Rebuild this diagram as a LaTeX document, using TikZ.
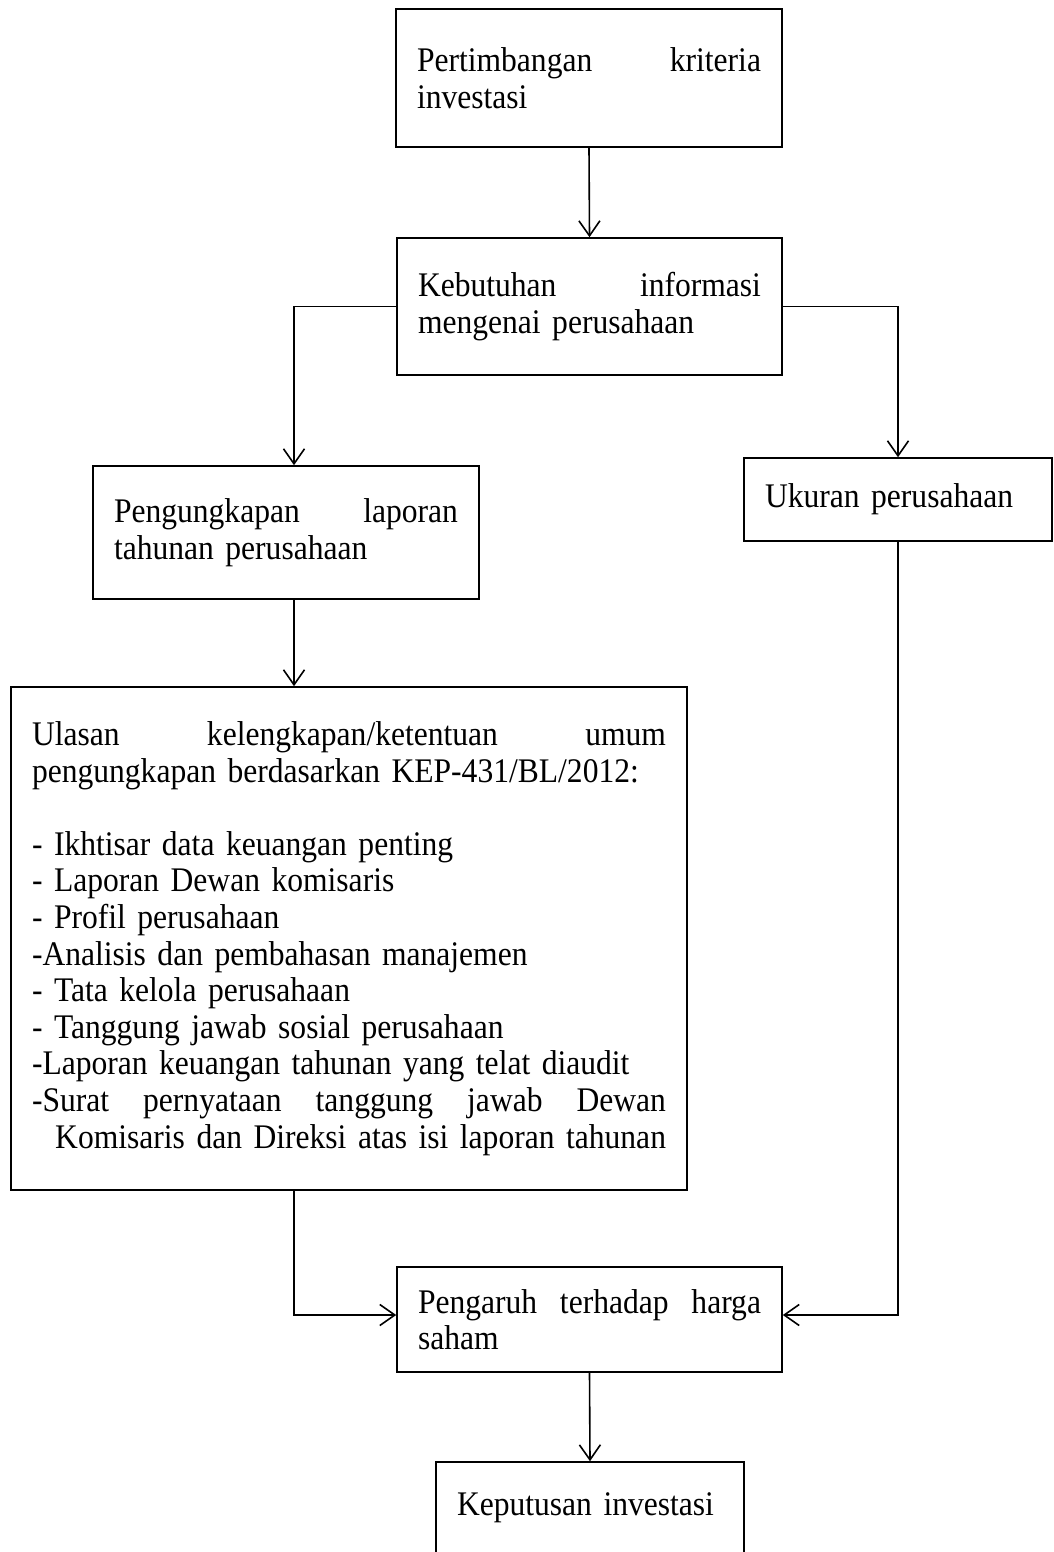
\documentclass[tikz,border=0pt]{standalone}
\usepackage{fontspec}
\setmainfont{Liberation Serif}[FakeStretch=0.915,WordSpace=0.8]
\usetikzlibrary{arrows.meta}
\begin{document}
\begin{tikzpicture}[x=1pt,y=-1pt,
  box/.style={draw, line width=1.6pt, inner xsep=21pt, inner ysep=0pt,
    font=\fontsize{34.5}{36.6}\selectfont, align=left},
  arr/.style={line width=1.6pt, -{Straight Barb[length=15pt,width=21pt,line width=1.6pt]}}]
\useasboundingbox (0,0) rectangle (1053,1552);

\node[box, text width=344pt, minimum width=386pt, minimum height=138pt] (b1) at (589,78)
  {Pertimbangan\hfill kriteria\\investasi};
\node[box, text width=343pt, minimum width=385pt, minimum height=137pt] (b2) at (589.5,306.5)
  {Kebutuhan\hfill informasi\\mengenai perusahaan};
\node[box, text width=344pt, minimum width=386pt, minimum height=133pt] (b3) at (286,532.5)
  {Pengungkapan\hfill laporan\\tahunan perusahaan};
\node[box, text width=266pt, minimum width=308pt, minimum height=83pt] (b4) at (898,499.5)
  {Ukuran perusahaan};
\node[box, text width=634pt, minimum width=676pt, minimum height=503pt] (b5) at (349,938.5)
  {Ulasan\hfill kelengkapan/ketentuan\hfill umum\\
   pengungkapan berdasarkan KEP-431/BL/2012:\\
   \mbox{}\\
   - Ikhtisar data keuangan penting\\
   - Laporan Dewan komisaris\\
   - Profil perusahaan\\
   -Analisis dan pembahasan manajemen\\
   - Tata kelola perusahaan\\
   - Tanggung jawab sosial perusahaan\\
   -Laporan keuangan tahunan yang telat diaudit\\
   -Surat\hfill pernyataan\hfill tanggung\hfill jawab\hfill Dewan\\
   \hspace*{\fill}Komisaris dan Direksi atas isi laporan tahunan\hspace*{\fill}};
\node[box, text width=343pt, minimum width=385pt, minimum height=105pt] (b6) at (589.5,1319.5)
  {Pengaruh\hfill terhadap\hfill harga\\saham};
\node[box, text width=266pt, minimum width=308pt, minimum height=91pt] (b7) at (590,1507.5)
  {Keputusan investasi};

\coordinate (lx) at (294,0);
\coordinate (my) at (0,1315);

\draw[arr] (b1.south) -- (b2.north);
\draw[arr] (b2.west) -| (lx |- b3.north);
\draw[arr] (b2.east) -| (b4.north);
\draw[arr] (lx |- b3.south) -- (lx |- b5.north);
\draw[arr] (lx |- b5.south) |- (my -| b6.west);
\draw[arr] (b4.south) |- (my -| b6.east);
\draw[arr] (b6.south) -- (b7.north);
\end{tikzpicture}
\end{document}
